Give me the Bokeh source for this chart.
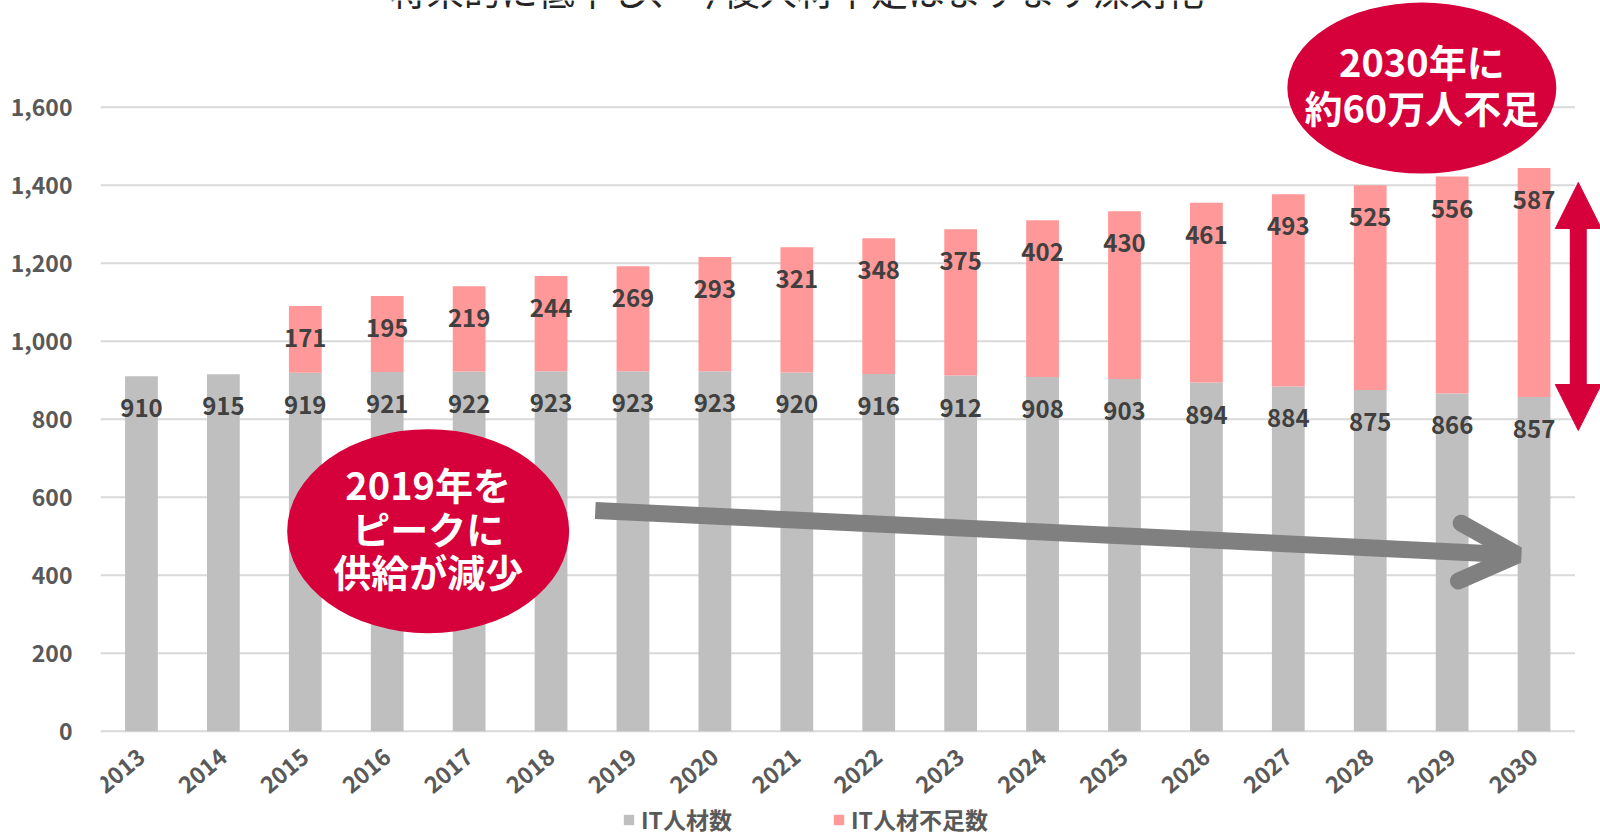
from bokeh.plotting import figure
from bokeh.models import (ColumnDataSource, FixedTicker, Arrow, OpenHead, NormalHead,
                          Legend, LegendItem, NumeralTickFormatter)
from bokeh.core.properties import value
from bokeh.embed import file_html
from bokeh.resources import INLINE

# ---------------- data ----------------
years = ["2013", "2014", "2015", "2016", "2017", "2018", "2019", "2020", "2021",
         "2022", "2023", "2024", "2025", "2026", "2027", "2028", "2029", "2030"]
it_workers = [910, 915, 919, 921, 922, 923, 923, 923, 920, 916, 912, 908, 903,
              894, 884, 875, 866, 857]
it_shortage = [None, None, 171, 195, 219, 244, 269, 293, 321, 348, 375, 402, 430,
               461, 493, 525, 556, 587]
y_ticks = [0, 200, 400, 600, 800, 1000, 1200, 1400, 1600]
series_names = ["IT人材数", "IT人材不足数"]
title_text = "将来的に低下し、今後人材不足はますます深刻化"
bubble_2030 = ["2030年に", "約60万人不足"]
bubble_2019 = ["2019年を", "ピークに", "供給が減少"]

# ---------------- styles ----------------
FONT = value("Noto Sans CJK JP")
GREY = "#BFBFBF"
PINK = "#FF9999"
RED = "#D6003A"
AXIS_TXT = "#595959"
LBL_TXT = "#404040"
GRID = "#D9D9D9"

idx = list(range(len(years)))
short0 = [s if s is not None else 0 for s in it_shortage]
src = ColumnDataSource(dict(x=idx, year=years, supply=it_workers, short=short0))

p = figure(width=1600, height=836, output_backend="svg", toolbar_location=None,
           x_range=(-0.5, 17.811), y_range=(-270, 1873.6),
           min_border_left=100, min_border_right=0, min_border_top=0, min_border_bottom=0,
           outline_line_color=None, background_fill_color="white")
p.xgrid.visible = False
p.ygrid.visible = False

# gridlines (only across the category span)
p.segment(x0=[-0.5] * len(y_ticks), x1=[len(years) - 0.5] * len(y_ticks),
          y0=y_ticks, y1=y_ticks, line_color=GRID, line_width=2)

renderers = p.vbar_stack(["supply", "short"], x="x", width=0.40, source=src,
                         color=[GREY, PINK], line_color=None)

# value labels
lab_s = ColumnDataSource(dict(x=idx, y=it_workers, t=[str(v) for v in it_workers]))
p.text(x="x", y="y", text="t", source=lab_s, text_font=FONT, text_font_style="bold",
       text_font_size="24px", text_color=LBL_TXT, text_align="center",
       text_baseline="middle", y_offset=32)
kx = [i for i, s in zip(idx, it_shortage) if s is not None]
ky = [w + s for w, s in zip(it_workers, it_shortage) if s is not None]
kt = [str(s) for s in it_shortage if s is not None]
lab_k = ColumnDataSource(dict(x=kx, y=ky, t=kt))
p.text(x="x", y="y", text="t", source=lab_k, text_font=FONT, text_font_style="bold",
       text_font_size="24px", text_color=LBL_TXT, text_align="center",
       text_baseline="middle", y_offset=32)

# axes
p.yaxis.ticker = FixedTicker(ticks=y_ticks)
p.yaxis.formatter = NumeralTickFormatter(format="0,0")
p.yaxis.axis_line_color = None
p.yaxis.major_tick_line_color = None
p.yaxis.minor_tick_line_color = None
p.yaxis.major_label_standoff = 22
p.yaxis.major_label_text_font = "Noto Sans CJK JP"
p.yaxis.major_label_text_font_style = "bold"
p.yaxis.major_label_text_font_size = "23px"
p.yaxis.major_label_text_color = AXIS_TXT

p.xaxis.ticker = FixedTicker(ticks=idx)
p.xaxis.major_label_overrides = {i: y for i, y in zip(idx, years)}
p.xaxis.fixed_location = 0
p.xaxis.axis_line_color = None
p.xaxis.major_tick_line_color = None
p.xaxis.minor_tick_line_color = None
p.xaxis.major_label_orientation = 0.70
p.xaxis.major_label_standoff = 16
p.xaxis.major_label_text_font = "Noto Sans CJK JP"
p.xaxis.major_label_text_font_style = "bold"
p.xaxis.major_label_text_font_size = "23px"
p.xaxis.major_label_text_color = AXIS_TXT

# title (cut off at top as in the source image)
p.text(x=[8.0], y=[1860], y_offset=-16, text=[title_text], text_font=FONT,
       text_font_size="37px", text_color="#262626", text_align="center",
       text_baseline="middle")

# grey trend arrow
p.add_layout(Arrow(x_start=5.54, y_start=566, x_end=16.8, y_end=452,
                   line_color="#808080", line_width=17,
                   end=OpenHead(size=58, line_color="#808080", line_width=17,
                                line_cap="round")))

# red double arrow
p.add_layout(Arrow(x_start=17.54, y_start=771, x_end=17.54, y_end=1407,
                   line_color=RED, line_width=17,
                   start=NormalHead(size=46, fill_color=RED, line_color=RED),
                   end=NormalHead(size=46, fill_color=RED, line_color=RED)))

# bubbles
p.ellipse(x=[15.63, 3.5], y=[1649, 513], width=[269, 282], height=[171, 204],
          width_units="screen", height_units="screen", fill_color=RED, line_color=None)
p.text(x=[15.63, 15.63], y=[1649, 1649], y_offset=[-28, 18], text=bubble_2030,
       text_font=FONT, text_font_style="bold", text_font_size="38px",
       text_color="white", text_align="center", text_baseline="middle")
p.text(x=[3.5] * 3, y=[513] * 3, y_offset=[-48, -4, 39], text=bubble_2019,
       text_font=FONT, text_font_style="bold", text_font_size="38px",
       text_color="white", text_align="center", text_baseline="middle")

# legend
legend = Legend(items=[LegendItem(label=series_names[0], renderers=[renderers[0]]),
                       LegendItem(label=series_names[1], renderers=[renderers[1]])],
                orientation="horizontal", location=(522, 0),
                border_line_color=None, background_fill_alpha=0,
                padding=0, margin=0, spacing=100, label_standoff=6,
                glyph_width=13, glyph_height=13,
                label_text_font="Noto Sans CJK JP", label_text_font_style="bold",
                label_text_font_size="23px", label_text_color=AXIS_TXT)
p.add_layout(legend, "center")

open("out.html", "w").write(file_html(p, INLINE))
